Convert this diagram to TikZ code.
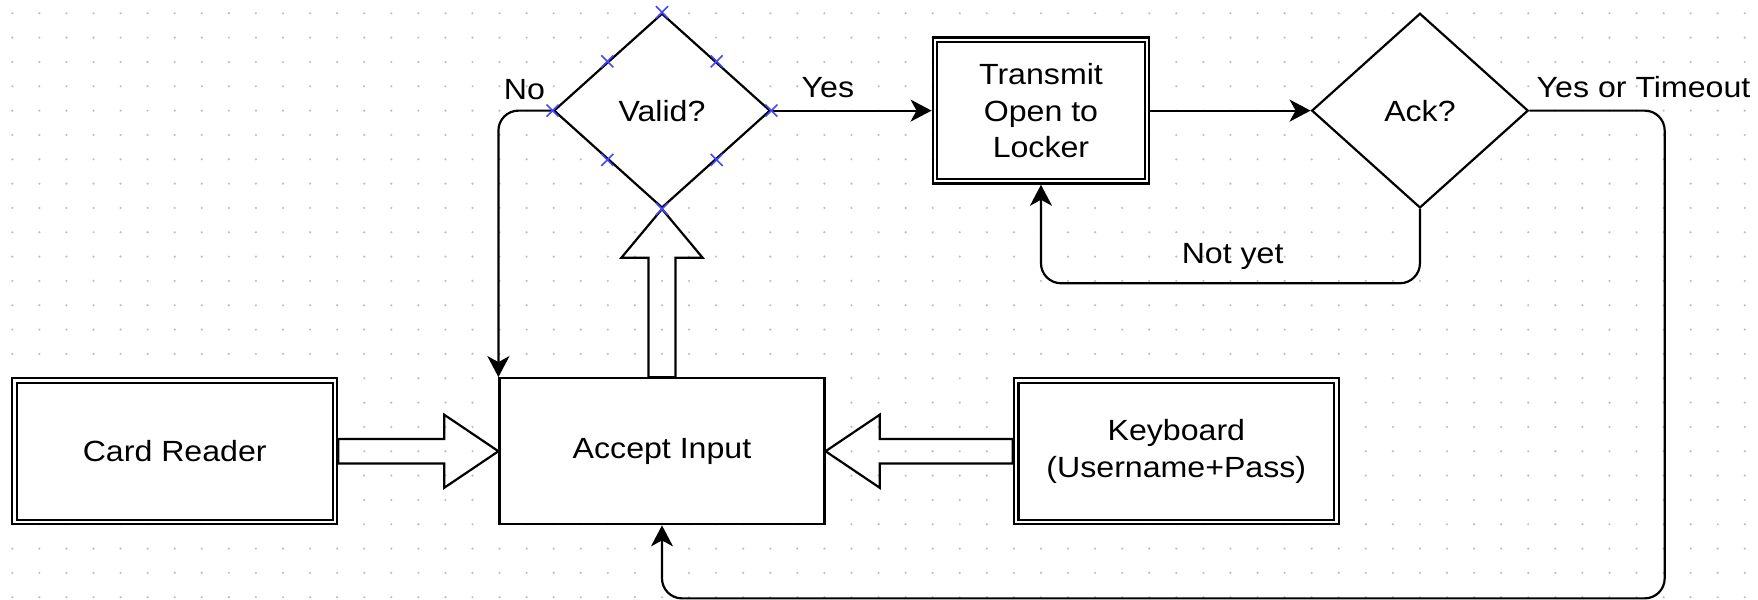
\documentclass[tikz,border=0pt]{standalone}
\usepackage{fontspec}
\setmainfont[FakeStretch=1.1]{Liberation Sans}
\usetikzlibrary{arrows.meta,shapes.geometric,calc}
\newcommand\diagfont{\fontsize{14.6}{18.3}\selectfont}
\definecolor{griddot}{RGB}{190,190,190}
\definecolor{handle}{RGB}{70,70,255}
\tikzset{
  txt/.style={font=\diagfont, inner sep=0pt, align=center},
  box/.style={txt, draw, line width=1.15pt, fill=white,
    minimum width=162.42pt, minimum height=72.99pt},
  smallbox/.style={box, minimum width=108.28pt},
  decision/.style={txt, diamond, draw, line width=1.1pt, fill=white,
    minimum width=108.28pt, minimum height=97.32pt},
  conn/.style={line width=1.1pt, rounded corners=10pt,
    -{Stealth[length=10.5pt,width=11pt,inset=3pt]}},
  hollow/.style={draw, line width=1.1pt, line join=miter},
  lbl/.style={txt, anchor=base},
  handlemark/.style={draw=handle, line width=0.8pt}
}
\begin{document}
\begin{tikzpicture}[x=1.3535pt, y=-1.2165pt]
  % page and dotted grid
  \fill[white] (-4.544,-5.467) rectangle (644.88,240.73);
  \useasboundingbox (-4.544,-5.467) rectangle (644.88,240.73);
  \foreach \i in {0,...,64}
    \foreach \j in {0,...,24}
      \fill[griddot] (\i*10,\j*10) circle (0.6pt);

  % blocks
  \node[box] (cr)  at (60,180)  {Card Reader};
  \node[box] (acc) at (240,180) {Accept Input};
  \node[box] (kb)  at (430,180) {Keyboard\\(Username+Pass)};
  \node[smallbox] (tx) at (380,40) {Transmit\\Open to\\Locker};
  \node[decision] (valid) at (240,40) {Valid?};
  \node[decision] (ack)   at (520,40) {Ack?};

  % inner frames of the double-bordered blocks
  \foreach \n in {cr,kb,tx}
    \draw[line width=1.15pt] ([shift={(2.8pt,-2.8pt)}]\n.north west)
      rectangle ([shift={(-2.8pt,2.8pt)}]\n.south east);

  % outlined block arrows
  \draw[hollow] ($(cr.east)+(0,-5)$) -- ($(acc.west)+(-20,-5)$)
    -- ($(acc.west)+(-20,-15)$) -- (acc.west) -- ($(acc.west)+(-20,15)$)
    -- ($(acc.west)+(-20,5)$) -- ($(cr.east)+(0,5)$) -- cycle;
  \draw[hollow] ($(kb.west)+(0,-5)$) -- ($(acc.east)+(20,-5)$)
    -- ($(acc.east)+(20,-15)$) -- (acc.east) -- ($(acc.east)+(20,15)$)
    -- ($(acc.east)+(20,5)$) -- ($(kb.west)+(0,5)$) -- cycle;
  \draw[hollow] ($(acc.north)+(-5,0)$) -- ($(valid.south)+(-5,20)$)
    -- ($(valid.south)+(-15,20)$) -- (valid.south) -- ($(valid.south)+(15,20)$)
    -- ($(valid.south)+(5,20)$) -- ($(acc.north)+(5,0)$) -- cycle;

  % connectors
  \draw[conn] (valid.east) -- (tx.west);
  \draw[conn] (tx.east) -- (ack.west);
  \draw[conn] (valid.west) -| (acc.north west);
  \draw[conn] (ack.south) -- ++(0,30.5) -| (tx.south);
  \draw[conn] (ack.east) -- ++(50,0) |- ($(acc.south)+(0,30)$) -- (acc.south);

  % connector labels
  \node[lbl] (lno)   at (189.2,35.6) {No};
  \node[lbl] (lyes)  at (301.3,34.8) {Yes};
  \node[lbl] (lyto)  at (602.6,34.5) {Yes or Timeout};
  \node[lbl] (lnot)  at (450.8,102.8) {Not yet};

  % selection handles on the decision: corners and edge midpoints
  \foreach \a/\b in {north/north, south/south, east/east, west/west,
                     north/west, north/east, south/west, south/east}
    \draw[handlemark] ($(valid.\a)!0.5!(valid.\b)$)
      +(-3pt,-3pt) -- +(3pt,3pt) +(-3pt,3pt) -- +(3pt,-3pt);
\end{tikzpicture}
\end{document}
